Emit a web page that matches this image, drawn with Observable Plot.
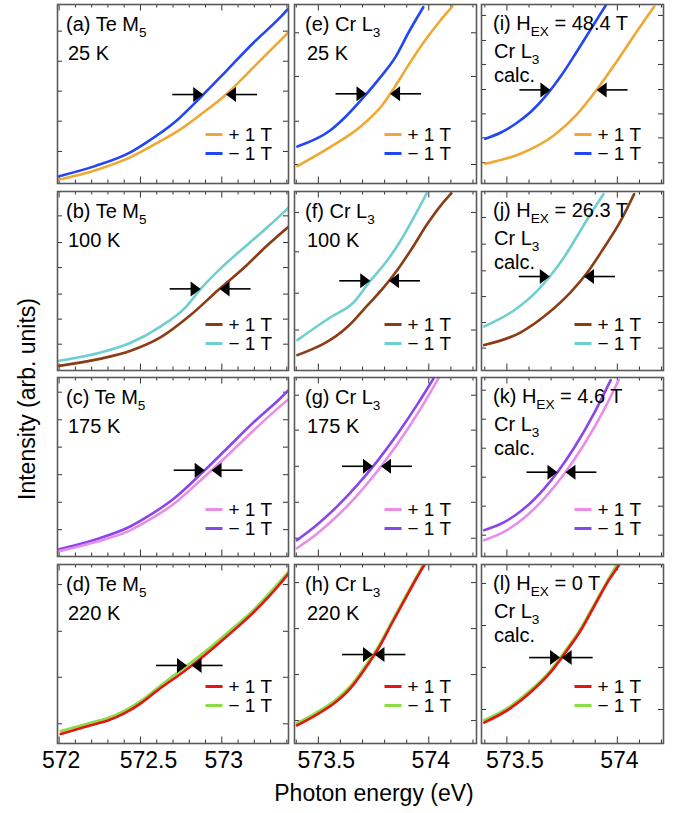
<!DOCTYPE html>
<html><head><meta charset="utf-8">
<script src="https://cdn.jsdelivr.net/npm/d3@7"></script>
<script src="https://cdn.jsdelivr.net/npm/@observablehq/plot@0.6"></script>
<style>
body{margin:0;background:#fff;}
#fig{position:relative;width:682px;height:813px;overflow:hidden;font-family:'Liberation Sans',Arial,Helvetica,sans-serif;}
#fig svg{position:absolute;overflow:visible;}
</style></head><body><div id="fig"></div>
<script>
// ---- x-axis domains (eV) and tick labels per column ----
const domainTe = [571.99, 573.41];
const domainCr = [573.392, 574.216];
const domainCalc = [573.385, 574.209];
const majorTe = [572, 572.5, 573];
const majorCr = [573.5, 574];
const minorTe = d3.range(0, 15).map(i => +(572 + i * 0.1).toFixed(1));
const minorCr = d3.range(0, 9).map(i => +(573.4 + i * 0.1).toFixed(1));

// ---- spectra: [photon energy (eV), intensity (arb. units)] ----
const a_minus = [[572.00,0.41],[572.22,0.97],[572.44,1.75],[572.54,2.31],[572.71,3.42],[572.87,4.82],[573.03,6.31],[573.19,7.82],[573.36,9.29],[573.41,9.78]];
const a_plus  = [[572.00,0.22],[572.22,0.73],[572.44,1.47],[572.60,2.25],[572.75,3.05],[572.87,3.85],[573.03,5.00],[573.19,6.45],[573.36,8.00],[573.41,8.45]];
const b_minus = [[572.00,0.54],[572.25,0.99],[572.44,1.55],[572.62,2.44],[572.78,3.56],[572.87,4.56],[572.99,5.68],[573.15,6.97],[573.27,7.92],[573.41,9.09]];
const b_plus  = [[572.00,0.26],[572.25,0.65],[572.44,1.10],[572.62,1.83],[572.81,3.11],[572.98,4.51],[573.15,5.85],[573.27,6.91],[573.41,8.03]];
const c_minus = [[572.00,0.41],[572.22,0.94],[572.44,1.69],[572.54,2.21],[572.71,3.27],[572.87,4.60],[573.03,6.02],[573.19,7.45],[573.36,8.84],[573.41,9.29]];
const c_plus  = [[572.00,0.30],[572.22,0.80],[572.44,1.47],[572.54,1.97],[572.71,2.98],[572.87,4.26],[573.03,5.60],[573.19,7.00],[573.36,8.40],[573.41,8.79]];
const d_minus = [[572.01,0.70],[572.19,1.15],[572.30,1.42],[572.40,1.82],[572.50,2.37],[572.62,3.21],[572.75,4.11],[572.87,4.94],[573.03,6.15],[573.20,7.51],[573.36,9.08],[573.41,9.61]];
const d_plus  = [[572.01,0.53],[572.19,1.01],[572.30,1.28],[572.40,1.68],[572.50,2.23],[572.62,3.07],[572.75,3.91],[572.87,4.75],[573.03,5.98],[573.20,7.37],[573.36,8.94],[573.41,9.50]];
const e_minus = [[573.405,2.07],[573.553,2.96],[573.629,3.80],[573.705,4.82],[573.781,5.94],[573.849,7.06],[573.909,8.45],[573.975,9.85]];
const e_plus  = [[573.405,0.97],[573.553,2.03],[573.697,3.24],[573.788,4.36],[573.841,5.30],[573.902,6.50],[573.977,7.89],[574.046,9.01],[574.107,9.89]];
const f_minus = [[573.405,1.70],[573.553,2.96],[573.659,3.80],[573.735,5.01],[573.811,6.13],[573.872,7.25],[573.932,8.55],[573.990,9.89]];
const f_plus  = [[573.405,0.86],[573.637,2.50],[573.720,3.61],[573.796,4.64],[573.849,5.47],[573.917,6.69],[573.993,8.18],[574.053,9.20],[574.102,9.89]];
const g_minus = [[573.403,0.91],[573.494,1.77],[573.585,2.80],[573.676,3.99],[573.767,5.33],[573.858,6.84],[573.949,8.51],[574.022,9.96]];
const g_plus  = [[573.403,0.46],[573.494,1.27],[573.585,2.26],[573.676,3.42],[573.767,4.76],[573.858,6.28],[573.949,7.98],[574.044,9.96]];
const h_minus = [[573.403,1.14],[573.485,1.69],[573.576,2.42],[573.644,3.20],[573.712,4.32],[573.772,5.42],[573.835,6.87],[573.894,8.20],[573.949,9.42],[573.975,10.0]];
const h_plus  = [[573.403,1.01],[573.485,1.56],[573.576,2.29],[573.644,3.07],[573.712,4.19],[573.772,5.31],[573.835,6.76],[573.894,8.10],[573.949,9.33],[573.981,10.0]];
const i_minus = [[573.402,2.50],[573.473,2.85],[573.541,3.35],[573.610,4.02],[573.678,4.92],[573.746,6.03],[573.814,7.32],[573.882,8.66],[573.950,10.0]];
const i_plus  = [[573.402,1.10],[573.561,1.66],[573.712,2.68],[573.819,3.89],[573.910,5.29],[574.000,6.87],[574.091,8.55],[574.167,9.89]];
const j_minus = [[573.397,2.46],[573.530,3.34],[573.637,4.45],[573.697,5.29],[573.758,6.31],[573.819,7.53],[573.879,8.74],[573.937,9.85]];
const j_plus  = [[573.397,1.42],[573.561,2.12],[573.682,3.15],[573.788,4.36],[573.864,5.47],[573.940,6.87],[574.015,8.36],[574.076,9.85]];
const k_minus = [[573.397,1.47],[573.488,1.92],[573.579,2.69],[573.670,3.81],[573.729,4.71],[573.806,6.10],[573.897,8.05],[573.970,9.85]];
const k_plus  = [[573.397,0.91],[573.488,1.39],[573.579,2.17],[573.670,3.26],[573.765,4.71],[573.852,6.31],[573.943,8.28],[574.006,9.85]];
const l_minus = [[573.397,1.30],[573.515,2.08],[573.606,2.97],[573.697,4.08],[573.765,5.20],[573.834,6.42],[573.902,7.93],[573.961,9.22],[574.000,10.05]];
const l_plus  = [[573.397,1.17],[573.515,1.96],[573.606,2.85],[573.697,3.97],[573.765,5.08],[573.834,6.31],[573.902,7.82],[573.961,9.11],[574.006,9.94]];

// ---- arrow levels (intensity at which the arrows point to the edges) ----
const arrowLevel = {a:4.97,b:4.56,c:4.82,d:4.36,e:5.01,f:5.01,g:5.04,h:4.97,i:5.23,j:5.25,k:4.71,l:4.80};

// ---- y tick values per panel ----
const yTicks = {
  a:[1.79,3.48,5.16,6.83,8.51], b:[1.47,2.87,4.27,5.75,7.15,8.64], c:[1.50,3.03,4.57,6.11,7.64,9.18], d:[1.10,3.70,6.27,8.88],
  e:[1.06,3.48,5.98,8.42], f:[2.26,4.32,6.63,8.83], g:[1.02,3.03,5.04,7.06,9.01], h:[1.28,3.85,6.42,8.99],
  i:[1.16,2.55,3.89,5.25,6.65,7.99,9.39], j:[1.25,2.68,4.13,5.57,7.06,8.55], k:[1.19,2.81,4.43,6.05,7.67,9.29], l:[1.90,4.25,6.59,8.94]
};

// ---- panel texts ----
const panelText = {
  a:["(a) Te M_{5}","25 K"], b:["(b) Te M_{5}","100 K"], c:["(c) Te M_{5}","175 K"], d:["(d) Te M_{5}","220 K"],
  e:["(e) Cr L_{3}","25 K"], f:["(f) Cr L_{3}","100 K"], g:["(g) Cr L_{3}","175 K"], h:["(h) Cr L_{3}","220 K"],
  i:["(i) H_{EX} = 48.4 T","Cr L_{3}","calc."], j:["(j) H_{EX} = 26.3 T","Cr L_{3}","calc."],
  k:["(k) H_{EX} = 4.6 T","Cr L_{3}","calc."], l:["(l) H_{EX} = 0 T","Cr L_{3}","calc."]
};
const legendText = ["+ 1 T", "\u2212 1 T"];
// colours per temperature row: [+1 T, -1 T]
const rowColors = [["#f0a832","#2346f5"],["#8c3c14","#6fcfcf"],["#ea8ce9","#8a45ee"],["#e4140f","#88dd44"]];

const spectra = {a:[a_plus,a_minus],b:[b_plus,b_minus],c:[c_plus,c_minus],d:[d_plus,d_minus],
  e:[e_plus,e_minus],f:[f_plus,f_minus],g:[g_plus,g_minus],h:[h_plus,h_minus],
  i:[i_plus,i_minus],j:[j_plus,j_minus],k:[k_plus,k_minus],l:[l_plus,l_minus]};

// ---- layout ----
const FONT = "'Liberation Sans', Arial, Helvetica, sans-serif";
const cols = [{l:57,w:231,dom:domainTe,major:majorTe,minor:minorTe,seg:[83,66],txt:60,lx:[9,11]},
              {l:294,w:182,dom:domainCr,major:majorCr,minor:minorCr,seg:[92,75],txt:69,lx:[11,13]},
              {l:481,w:182,dom:domainCalc,major:majorCr,minor:minorCr,seg:[89,72],txt:66,lx:[12,13]}];
const rows = [{t:4,h:179,leg:[49,30]},{t:191,h:179,leg:[46,27]},{t:377,h:179,leg:[47,28]},{t:564,h:179,leg:[57,38]}];
const ids = [["a","e","i"],["b","f","j"],["c","g","k"],["d","h","l"]];
const pad = 6, bottomExtra = 42;

function xAt(curve, yv) {
  for (let i = 1; i < curve.length; i++) {
    const [x0,y0] = curve[i-1], [x1,y1] = curve[i];
    if ((y0 - yv) * (y1 - yv) <= 0 && y1 !== y0) return x0 + (yv - y0) / (y1 - y0) * (x1 - x0);
  }
  return curve[curve.length-1][0];
}
const headRight = {draw(ctx){ ctx.moveTo(0,0); ctx.lineTo(-10,-7.5); ctx.lineTo(-10,7.5); ctx.closePath(); }};
const headLeft  = {draw(ctx){ ctx.moveTo(0,0); ctx.lineTo(10,-7.5); ctx.lineTo(10,7.5); ctx.closePath(); }};

function addRich(g, x, y, str, size) {
  const t = g.append("text").attr("x", x).attr("y", y).attr("font-size", size)
    .attr("text-anchor", "start").attr("font-family", FONT).attr("fill", "#000");
  const parts = str.split(/(_\{[^}]*\})/).filter(s => s.length);
  let shift = 0;
  for (const p of parts) {
    if (p.startsWith("_{")) {
      t.append("tspan").attr("dy", 0.3 * size - shift).attr("font-size", size * 0.68).text(p.slice(2, -1));
      shift = 0.3 * size;
    } else {
      t.append("tspan").attr("dy", -shift).text(p);
      shift = 0;
    }
  }
}

const fig = document.getElementById("fig");

rows.forEach((r, ri) => cols.forEach((c, ci) => {
  const id = ids[ri][ci];
  const [plus, minus] = spectra[id];
  const [cPlus, cMinus] = rowColors[ri];
  const W = c.w, H = r.h, dom = c.dom, span = dom[1] - dom[0];
  const isBottom = ri === 3;
  const fx = px => dom[0] + px / W * span;     // frame px -> eV
  const fy = up => up / H * 10;                // px up from bottom -> intensity
  const L = 31 / W * span, head = 9 / W * span;
  const lev = arrowLevel[id];
  const tipM = xAt(minus, lev), tipP = xAt(plus, lev);
  const minorOnly = c.minor.filter(v => !c.major.some(m => Math.abs(m - v) < 1e-6));
  const marks = [
    Plot.tickX(minorOnly, {x: d => d, insetTop: H - 3.5, stroke: "#333", strokeWidth: 1}),
    Plot.tickX(minorOnly, {x: d => d, insetBottom: H - 3.5, stroke: "#333", strokeWidth: 1}),
    Plot.tickX(c.major, {x: d => d, insetTop: H - 6.5, stroke: "#333", strokeWidth: 1}),
    Plot.tickX(c.major, {x: d => d, insetBottom: H - 6.5, stroke: "#333", strokeWidth: 1}),
    Plot.tickY(yTicks[id], {y: d => d, insetRight: W - 5, stroke: "#333", strokeWidth: 1}),
    Plot.tickY(yTicks[id], {y: d => d, insetLeft: W - 5, stroke: "#333", strokeWidth: 1}),
    Plot.line(minus, {x: d => d[0], y: d => d[1], stroke: cMinus, strokeWidth: 2.6, curve: "monotone-x", clip: true}),
    Plot.line(plus, {x: d => d[0], y: d => d[1], stroke: cPlus, strokeWidth: 2.6, curve: "monotone-x", clip: true}),
    // arrows
    Plot.link([0], {x1: tipM - L, x2: tipM - head, y1: lev, y2: lev, stroke: "#000", strokeWidth: 1.6}),
    Plot.link([0], {x1: tipP + L, x2: tipP + head, y1: lev, y2: lev, stroke: "#000", strokeWidth: 1.6}),
    Plot.dot([0], {x: tipM, y: lev, symbol: headRight, fill: "#000", stroke: "none"}),
    Plot.dot([0], {x: tipP, y: lev, symbol: headLeft, fill: "#000", stroke: "none"}),
    // legend
    Plot.link([0], {x1: fx(W - c.seg[0]), x2: fx(W - c.seg[1]), y1: fy(r.leg[0]), y2: fy(r.leg[0]), stroke: cPlus, strokeWidth: 3}),
    Plot.link([0], {x1: fx(W - c.seg[0]), x2: fx(W - c.seg[1]), y1: fy(r.leg[1]), y2: fy(r.leg[1]), stroke: cMinus, strokeWidth: 3}),
    Plot.text([legendText[0]], {x: fx(W - c.txt), y: fy(r.leg[0]), text: d => d, textAnchor: "start", lineAnchor: "middle", fontSize: 19, fill: "#000"}),
    Plot.text([legendText[1]], {x: fx(W - c.txt), y: fy(r.leg[1]), text: d => d, textAnchor: "start", lineAnchor: "middle", fontSize: 19, fill: "#000"}),
    Plot.frame({stroke: "#5a5a5a", strokeWidth: 1.6})
  ];
  if (isBottom) {
    const ints = c.major.filter(v => Number.isInteger(v));
    const halves = c.major.filter(v => !Number.isInteger(v));
    marks.push(Plot.text(ints, {x: d => d, text: d => String(d), frameAnchor: "bottom", dy: 8, dx: 2, lineAnchor: "top", fontSize: 23, fill: "#000"}));
    marks.push(Plot.text(halves, {x: d => d, text: d => String(d), frameAnchor: "bottom", dy: 8, dx: 8, lineAnchor: "top", fontSize: 23, fill: "#000"}));
  }
  const svg = Plot.plot({
    width: W + 2 * pad, height: H + 2 * pad + (isBottom ? bottomExtra : 0),
    marginLeft: pad, marginRight: pad, marginTop: pad, marginBottom: pad + (isBottom ? bottomExtra : 0),
    x: {domain: dom, axis: null}, y: {domain: [0, 10], axis: null},
    style: {fontFamily: FONT, fontSize: "20px", overflow: "visible", background: "transparent"},
    marks
  });
  svg.style.left = (c.l - pad) + "px";
  svg.style.top = (r.t - pad) + "px";
  const g = d3.select(svg).append("g");
  const lines = panelText[id];
  const base = lines.length === 3 ? [26, 54, 78] : [27, 56];
  lines.forEach((s, k) => addRich(g, pad + (k === 0 ? c.lx[0] : c.lx[1]), pad + base[k], s, 20));
  fig.appendChild(svg);
}));

// axis titles
const ov = d3.select(fig).append("svg").attr("width", 682).attr("height", 813).style("left", "0px").style("top", "0px");
ov.append("text").attr("x", 374).attr("y", 801).attr("text-anchor", "middle").attr("font-size", 23)
  .attr("font-family", FONT).text("Photon energy (eV)");
ov.append("text").attr("transform", "translate(35,399) rotate(-90)").attr("text-anchor", "middle").attr("font-size", 23)
  .attr("font-family", FONT).text("Intensity (arb. units)");
</script></body></html>
